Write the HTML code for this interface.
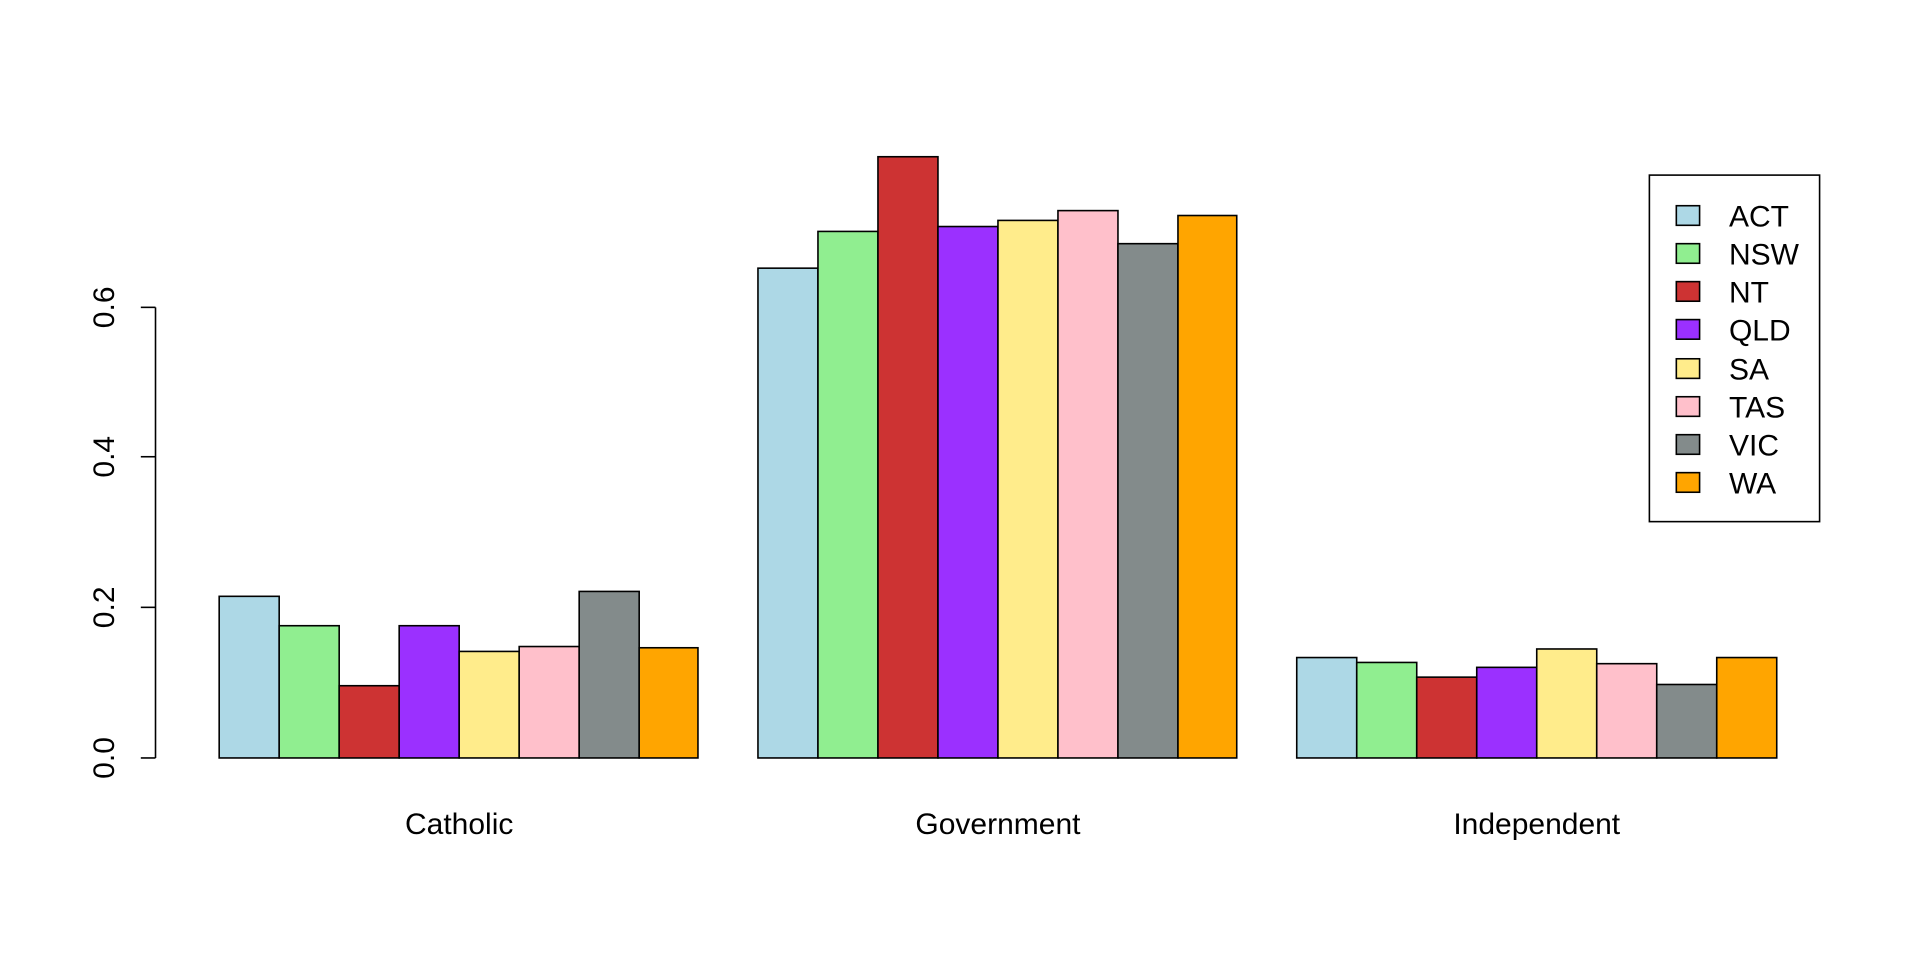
<!DOCTYPE html>
<html><head><meta charset="utf-8"><style>html,body{margin:0;padding:0;background:#fff}svg{display:block}</style></head>
<body>
<svg width="1920" height="960" viewBox="0 0 1568 784" xmlns="http://www.w3.org/2000/svg" font-family="Liberation Sans, Arial, sans-serif" font-size="24.5">
<rect width="1568" height="784" fill="#fff"/>
<g stroke="#000" stroke-width="1.3">
<line x1="127" y1="251" x2="127" y2="619"/>
<line x1="115" y1="619" x2="127" y2="619"/>
<line x1="115" y1="496" x2="127" y2="496"/>
<line x1="115" y1="373" x2="127" y2="373"/>
<line x1="115" y1="251" x2="127" y2="251"/>
</g>
<g text-anchor="middle">
<text transform="translate(93,619) rotate(-90)">0.0</text>
<text transform="translate(93,496) rotate(-90)">0.2</text>
<text transform="translate(93,373) rotate(-90)">0.4</text>
<text transform="translate(93,251) rotate(-90)">0.6</text>
<text x="375" y="681">Catholic</text>
<text x="815" y="681">Government</text>
<text x="1255" y="681">Independent</text>
</g>
<g stroke="#000" stroke-width="1.3">
<rect x="179" y="487" width="49" height="132" fill="#ADD8E6"/>
<rect x="228" y="511" width="49" height="108" fill="#90EE90"/>
<rect x="277" y="560" width="49" height="59" fill="#CD3333"/>
<rect x="326" y="511" width="49" height="108" fill="#9B30FF"/>
<rect x="375" y="532" width="49" height="87" fill="#FFEC8B"/>
<rect x="424" y="528" width="49" height="91" fill="#FFC0CB"/>
<rect x="473" y="483" width="49" height="136" fill="#838B8B"/>
<rect x="522" y="529" width="48" height="90" fill="#FFA500"/>
<rect x="619" y="219" width="49" height="400" fill="#ADD8E6"/>
<rect x="668" y="189" width="49" height="430" fill="#90EE90"/>
<rect x="717" y="128" width="49" height="491" fill="#CD3333"/>
<rect x="766" y="185" width="49" height="434" fill="#9B30FF"/>
<rect x="815" y="180" width="49" height="439" fill="#FFEC8B"/>
<rect x="864" y="172" width="49" height="447" fill="#FFC0CB"/>
<rect x="913" y="199" width="49" height="420" fill="#838B8B"/>
<rect x="962" y="176" width="48" height="443" fill="#FFA500"/>
<rect x="1059" y="537" width="49" height="82" fill="#ADD8E6"/>
<rect x="1108" y="541" width="49" height="78" fill="#90EE90"/>
<rect x="1157" y="553" width="49" height="66" fill="#CD3333"/>
<rect x="1206" y="545" width="49" height="74" fill="#9B30FF"/>
<rect x="1255" y="530" width="49" height="89" fill="#FFEC8B"/>
<rect x="1304" y="542" width="49" height="77" fill="#FFC0CB"/>
<rect x="1353" y="559" width="49" height="60" fill="#838B8B"/>
<rect x="1402" y="537" width="49" height="82" fill="#FFA500"/>
<rect x="1347" y="143" width="139" height="283" fill="#fff"/>
<rect x="1369" y="168" width="19" height="16" fill="#ADD8E6"/>
<rect x="1369" y="199" width="19" height="16" fill="#90EE90"/>
<rect x="1369" y="230" width="19" height="16" fill="#CD3333"/>
<rect x="1369" y="261" width="19" height="16" fill="#9B30FF"/>
<rect x="1369" y="293" width="19" height="16" fill="#FFEC8B"/>
<rect x="1369" y="324" width="19" height="16" fill="#FFC0CB"/>
<rect x="1369" y="355" width="19" height="16" fill="#838B8B"/>
<rect x="1369" y="386" width="19" height="16" fill="#FFA500"/>
</g>
<g>
<text x="1412" y="185">ACT</text>
<text x="1412" y="216">NSW</text>
<text x="1412" y="247">NT</text>
<text x="1412" y="278">QLD</text>
<text x="1412" y="310">SA</text>
<text x="1412" y="341">TAS</text>
<text x="1412" y="372">VIC</text>
<text x="1412" y="403">WA</text>
</g>
</svg>
</body></html>
